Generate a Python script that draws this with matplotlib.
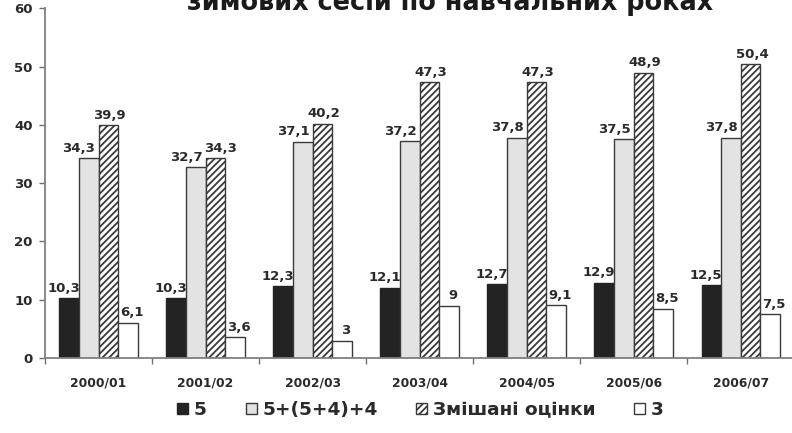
import matplotlib
matplotlib.use("Agg")
import matplotlib.pyplot as plt
import numpy as np
from matplotlib.patches import Patch

plt.rcParams['font.family'] = ['DejaVu Sans']
plt.rcParams['hatch.linewidth'] = 1.3
plt.rcParams['hatch.color'] = '#333333'

categories = ["2000/01", "2001/02", "2002/03", "2003/04", "2004/05", "2005/06", "2006/07"]
s5 = [10.3, 10.3, 12.3, 12.1, 12.7, 12.9, 12.5]
s54 = [34.3, 32.7, 37.1, 37.2, 37.8, 37.5, 37.8]
smixed = [39.9, 34.3, 40.2, 47.3, 47.3, 48.9, 50.4]
s3 = [6.1, 3.6, 3.0, 9.0, 9.1, 8.5, 7.5]
series_names = ["5", "5+(5+4)+4", "Змішані оцінки", "3"]
title = "зимових сесій по навчальних роках"

fig = plt.figure(figsize=(7.92, 4.33), dpi=100)
ax = fig.add_axes([0.0568, 0.173, 0.946, 0.808])

x = np.arange(len(categories))
w = 0.183
edge = '#3a3a3a'
styles = [
    dict(facecolor='#232323', edgecolor='#232323', hatch=None),
    dict(facecolor='#e3e3e3', edgecolor=edge, hatch=None),
    dict(facecolor='white', edgecolor=edge, hatch='/////'),
    dict(facecolor='white', edgecolor=edge, hatch=None),
]
data = [s5, s54, smixed, s3]
label_shift = [-4, -7, 1, 3]  # points, label nudges per series

def fmt(v):
    s = ("%.1f" % v)
    if s.endswith(".0"):
        s = s[:-2]
    return s.replace(".", ",")

labels = []
for i, (vals, st) in enumerate(zip(data, styles)):
    pos = x + (i - 1.5) * w
    bars = ax.bar(pos, vals, width=w, linewidth=1.0, **st)
    row = []
    for b, v in zip(bars, vals):
        t = ax.annotate(fmt(v), (b.get_x() + b.get_width() / 2, v),
                        xytext=(label_shift[i], 2.5), textcoords='offset points',
                        ha='center', va='bottom', fontsize=9.5,
                        fontweight='bold', color='#2a2a2a')
        row.append(t)
    labels.append(row)

ax.set_xlim(-0.5, len(categories) - 0.5)
ax.set_ylim(0, 60)
ax.set_yticks(range(0, 61, 10))
ax.tick_params(axis='y', labelsize=9.5, length=4, width=1, color='#707070',
               labelcolor='#2a2a2a', pad=5)
for lab in ax.get_yticklabels():
    lab.set_fontweight('bold')

ax.set_xticks(x)
ax.set_xticklabels(categories, fontsize=8.8, fontweight='bold', color='#2a2a2a')
ax.set_xticks(np.arange(-0.5, len(categories)), minor=True)
ax.tick_params(axis='x', which='major', length=0, pad=13.5)
ax.tick_params(axis='x', which='minor', length=4, width=1, color='#707070')

for sp in ['top', 'right']:
    ax.spines[sp].set_visible(False)
for sp in ['left', 'bottom']:
    ax.spines[sp].set_color('#808080')
    ax.spines[sp].set_linewidth(1.3)

handles = [Patch(linewidth=1.0, **st) for st in styles]
leg = fig.legend(handles, series_names, loc='center', bbox_to_anchor=(0.531, 0.053),
                 ncol=4, frameon=False, fontsize=13.3, handlelength=0.6,
                 handleheight=0.6, handletextpad=0.3, columnspacing=2.1)
for t in leg.get_texts():
    t.set_fontweight('bold')
    t.set_color('#2a2a2a')

fig.text(0.568, 1 - 10 / 433, title, ha='center', va='baseline',
         fontsize=18.4, fontweight='bold', color='#1a1a1a')

# push overlapping neighbour labels apart
fig.canvas.draw()
r = fig.canvas.get_renderer()
for j in range(len(categories)):
    for i in range(1, 4):
        a = labels[i - 1][j].get_window_extent(r)
        b = labels[i][j].get_window_extent(r)
        if a.y1 > b.y0 and b.y1 > a.y0 and a.x1 > b.x0 - 1:
            dx = (a.x1 - b.x0 + 2) * 72 / fig.dpi
            ox, oy = labels[i][j].xyann
            labels[i][j].xyann = (ox + dx, oy)

fig.savefig("out.png", dpi=100)
